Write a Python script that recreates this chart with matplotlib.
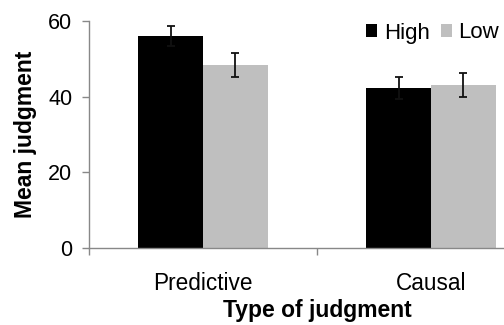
import matplotlib
matplotlib.use("Agg")
import matplotlib.pyplot as plt
import numpy as np

categories = ["Predictive", "Causal"]
series = ["High", "Low"]
high_vals = [56.0, 42.2]
low_vals = [48.4, 43.1]
high_err = [2.7, 2.9]
low_err = [3.1, 3.1]
yticks = [0, 20, 40, 60]

plt.rcParams['font.family'] = ['Liberation Sans', 'DejaVu Sans']

W, H = 504, 325
fig = plt.figure(figsize=(W / 100, H / 100), dpi=100)
ax = fig.add_axes([89 / W, 1 - 248 / H, 456 / W, 227 / H])

x = np.arange(len(categories))
bw = 0.285
colors = ["#000000", "#bfbfbf"]
ekw = dict(ecolor="#111111", elinewidth=1.3, capsize=3, capthick=1.3)
ax.bar(x - bw / 2, high_vals, bw, yerr=high_err, color=colors[0], label=series[0], error_kw=ekw, zorder=2)
ax.bar(x + bw / 2, low_vals, bw, yerr=low_err, color=colors[1], label=series[1], error_kw=ekw, zorder=2)

ax.set_xlim(-0.5, len(categories) - 0.5)
ax.set_ylim(0, 60)
ax.set_yticks(yticks)
ax.set_xticks(x)
ax.set_xticklabels(categories, fontsize=16.3)
ax.set_xticks(np.arange(len(categories) + 1) - 0.5, minor=True)
ax.tick_params(axis='x', which='major', length=0, pad=17)
ax.tick_params(axis='x', which='minor', length=5, color="#888888", width=1)
ax.tick_params(axis='y', labelsize=15.5, length=5, color="#888888", width=1, pad=7)

for s in ["top", "right"]:
    ax.spines[s].set_visible(False)
for s in ["left", "bottom"]:
    ax.spines[s].set_color("#888888")
    ax.spines[s].set_linewidth(1)

ax.set_ylabel("Mean judgment", fontsize=16.5, fontweight='bold', labelpad=8)
ax.set_xlabel("Type of judgment", fontsize=16.5, fontweight='bold', labelpad=3)

fig.legend(loc='center left', bbox_to_anchor=(366 / W, 1 - 33 / H), ncol=2, frameon=False,
           fontsize=16, handlelength=0.5, handleheight=0.5, handletextpad=0.3,
           columnspacing=0.5, borderpad=0, borderaxespad=0)

fig.savefig("out.png", dpi=100)
